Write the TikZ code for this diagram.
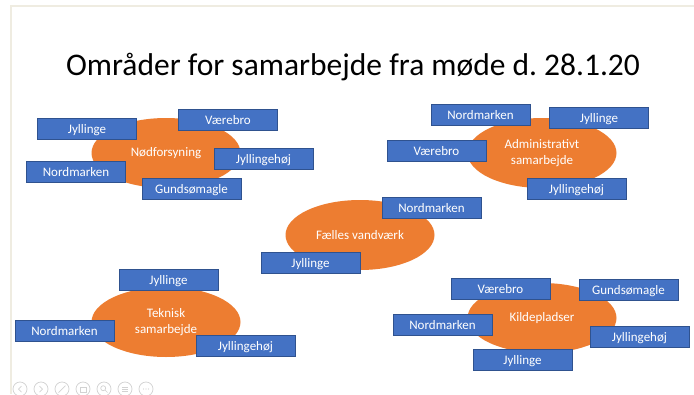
\documentclass[tikz,border=0pt]{standalone}
\usepackage{fontspec}
\setmainfont{Carlito}
\usetikzlibrary{shapes.geometric,positioning}
\definecolor{areaorange}{HTML}{ED7D31}
\definecolor{siteblue}{HTML}{4472C4}
\definecolor{siteedge}{HTML}{2F528F}
\definecolor{slideframe}{HTML}{EFECE1}
\definecolor{toolgray}{HTML}{D2D2D2}
\frenchspacing

\begin{document}
\begin{tikzpicture}[x=1pt,y=-1pt,
    topic/.style={ellipse,fill=areaorange,minimum width=149pt,minimum height=70pt,inner sep=0pt,text=white,align=center,font=\fontsize{13}{16}\selectfont},
    site/.style={rectangle,fill=siteblue,draw=siteedge,line width=0.6pt,minimum width=99pt,minimum height=21pt,inner sep=0pt,text height=9.5pt,text depth=0.5pt,text=white,font=\fontsize{13}{15}\selectfont},
    tool/.style={circle,draw=toolgray,line width=0.7pt,minimum size=14pt,inner sep=0pt}]
  \useasboundingbox (0,0) rectangle (694,394);
  \fill[white] (0,0) rectangle (694,394);
  % slide frame
  \draw[slideframe,line width=2.5pt] (11,394) -- (11,6) -- (694,6);

  \node [anchor=base,font=\fontsize{31.5}{36}\selectfont] (title) at (353,75) {Områder for samarbejde fra møde d. 28.1.20};

  % Noedforsyning
  \node [topic] (nod) at (166,153) {Nødforsyning};
  \node [site] (nod-jyl) at (87,128.5) {Jyllinge};
  \node [site] (nod-vae) at (228,119.5) {Værebro};
  \node [site] (nod-jyh) at (263.5,159) {Jyllingehøj};
  \node [site] (nod-nor) at (76,171.5) {Nordmarken};
  \node [site] (nod-gun) at (191.5,188.5) {Gundsømagle};

  % Administrativt samarbejde
  \node [topic] (adm) at (542,153) {Administrativt\\samarbejde};
  \node [site] (adm-nor) at (480.5,114.5) {Nordmarken};
  \node [site] (adm-jyl) at (599,117.5) {Jyllinge};
  \node [site] (adm-vae) at (436.5,151) {Værebro};
  \node [site] (adm-jyh) at (576.5,188.5) {Jyllingehøj};

  % Faelles vandvaerk
  \node [topic] (fv) at (360,235) {Fælles vandværk};
  \node [site] (fv-nor) at (431.5,207.5) {Nordmarken};
  \node [site] (fv-jyl) at (310.5,262.5) {Jyllinge};

  % Teknisk samarbejde
  \node [topic] (tek) at (166,322) {Teknisk\\samarbejde};
  \node [site] (tek-jyl) at (168.5,280) {Jyllinge};
  \node [site] (tek-nor) at (64.5,331) {Nordmarken};
  \node [site] (tek-jyh) at (245.5,346) {Jyllingehøj};

  % Kildepladser
  \node [topic] (kil) at (542,318) {Kildepladser};
  \node [site] (kil-vae) at (500.5,289) {Værebro};
  \node [site] (kil-gun) at (628.5,289.5) {Gundsømagle};
  \node [site] (kil-nor) at (442.5,325) {Nordmarken};
  \node [site] (kil-jyh) at (639.5,337) {Jyllingehøj};
  \node [site] (kil-jyl) at (522.5,360) {Jyllinge};

  % toolbar
  \foreach \i/\x in {1/20,2/41,3/62,4/83,5/104,6/125,7/146}
    \node [tool] (tool\i) at (\x,389) {};
  \draw[toolgray,line width=0.7pt] ([shift={(1.5,-3)}]tool1.center) -- ([shift={(-1.5,0)}]tool1.center) -- ([shift={(1.5,3)}]tool1.center);
  \draw[toolgray,line width=0.7pt] ([shift={(-1.5,-3)}]tool2.center) -- ([shift={(1.5,0)}]tool2.center) -- ([shift={(-1.5,3)}]tool2.center);
  \draw[toolgray,line width=0.7pt] ([shift={(-3.5,3.5)}]tool3.center) -- ([shift={(3.5,-3.5)}]tool3.center);
  \draw[toolgray,line width=0.7pt] ([shift={(-3,-2)}]tool4.center) rectangle ([shift={(3,3)}]tool4.center);
  \draw[toolgray,line width=0.7pt] ([shift={(-0.8,-0.8)}]tool5.center) circle (2.5pt) ([shift={(1,1)}]tool5.center) -- ([shift={(3.5,3.5)}]tool5.center);
  \draw[toolgray,line width=0.7pt] ([shift={(-3,-2)}]tool6.center) -- ([shift={(3,-2)}]tool6.center)
    ([shift={(-3,0)}]tool6.center) -- ([shift={(3,0)}]tool6.center) ([shift={(-3,2)}]tool6.center) -- ([shift={(3,2)}]tool6.center);
  \foreach \d in {-2.5,0,2.5}
    \fill[toolgray] ([shift={(\d,0)}]tool7.center) circle (0.7pt);
\end{tikzpicture}
\end{document}
